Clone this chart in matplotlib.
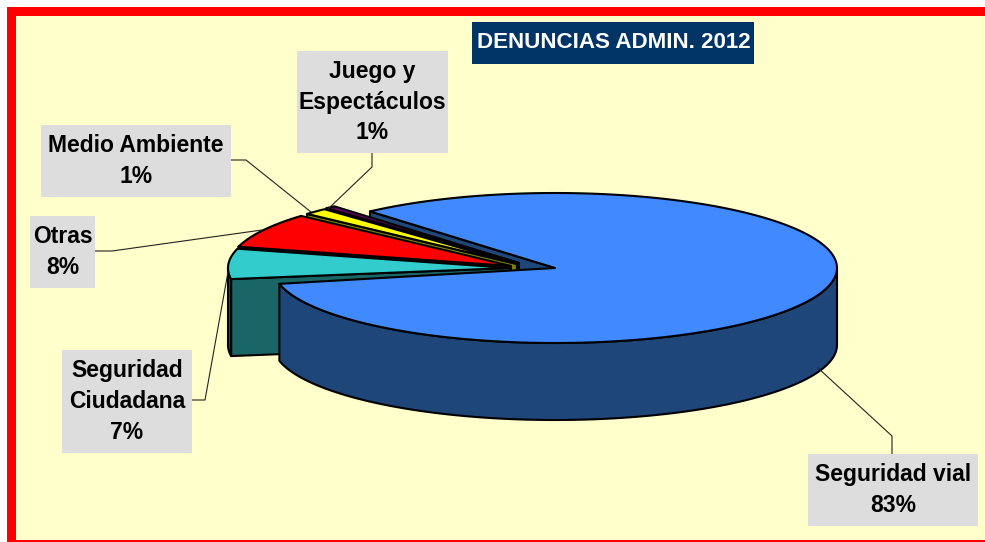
import matplotlib
matplotlib.use("Agg")
import matplotlib.pyplot as plt
from matplotlib.patches import Polygon, Rectangle
import numpy as np

# Datos de la tarta
categorias = ["Seguridad vial", "Seguridad\nCiudadana", "Otras", "Medio Ambiente", "Juego y\nEspectáculos"]
valores = [83.0, 6.5, 7.5, 1.4, 0.6]
etiquetas = ["83%", "7%", "8%", "1%", "1%"]
titulo = "DENUNCIAS ADMIN. 2012"

# Estilo
col_top = ["#4189FF", "#33CCCC", "#FF0000", "#FFFF00", "#660066"]
col_side = ["#1F4679", "#1A6666", "#800000", "#808000", "#330033"]
col_arc = ["#1F4679", "#145252", "#800000", "#808000", "#330033"]
desplaz = [(0, 0), (-45, 0), (-44, -2), (-38, -4), (-36, -5)]

# Geometria en pixeles
cx, cy = 555, 268
rx, ry = 282, 75
prof = 77
inicio = 131
giro = 3.7  # las porciones separadas quedan un poco giradas
lw = 1.5

cajas = [(808, 454, 978, 526), (62, 350, 192, 453), (30, 216, 95, 288), (41, 125, 231, 197), (297, 51, 448, 153)]
guias = [
    [(892, 454), (892, 436), (818, 368)],
    [(192, 400), (205, 400), (228, 272)],
    [(95, 251), (112, 251), (262, 230)],
    [(231, 160), (246, 160), (311, 212)],
    [(372, 153), (372, 167), (328, 209)],
]

fig = plt.figure(figsize=(9.85, 5.42), dpi=100)
ax = fig.add_axes([0, 0, 1, 1])
ax.set_xlim(0, 985)
ax.set_ylim(542, 0)
ax.axis("off")
plt.rcParams["font.family"] = ["Liberation Sans", "DejaVu Sans"]

ax.add_patch(Rectangle((7, 7), 1000, 560, fc="#FF0000", ec="none", zorder=0))
ax.add_patch(Rectangle((16, 16), 990, 524, fc="#FFFFCC", ec="none", zorder=1))


def borde(a, ox, oy):
    t = np.radians(a)
    return ox + rx * np.cos(t), oy - ry * np.sin(t)


def cara(pts, color, z):
    ax.add_patch(Polygon(pts, closed=True, fc=color, ec="black", lw=lw, joinstyle="round", zorder=z))


# angulos de cada porcion, en sentido horario
fin = inicio - np.cumsum(valores) / 100 * 360
ini = np.concatenate([[inicio], fin[:-1]])

# pared interior de la porcion grande, detras de las pequeñas
x0, y0 = borde(ini[0], cx, cy)
cara([(x0, y0), (cx, cy), (cx, cy + prof), (x0, y0 + prof)], col_side[0], 3)

# porciones separadas, de atras hacia delante
z = 4
for i in [4, 3, 2, 1]:
    ox = cx + desplaz[i][0]
    oy = cy + desplaz[i][1]
    a1, a2 = (ini[i] - giro) % 360, (fin[i] - giro) % 360
    xa, ya = borde(a1, ox, oy)
    cara([(ox, oy), (xa, ya), (xa, ya + prof), (ox, oy + prof)], col_side[i], z)
    if a1 > 180:
        # lado curvo que se ve por la izquierda
        arco = np.linspace(a1, 180, 12)
        xs, ys = borde(arco, ox, oy)
        pts = list(zip(xs, ys)) + list(zip(xs[::-1], ys[::-1] + prof))
        cara(pts, col_arc[i], z)
    arco = np.linspace(a1, a2, 40)
    xs, ys = borde(arco, ox, oy)
    cara([(ox, oy)] + list(zip(xs, ys)), col_top[i], z + 1)
    z += 2

# porcion grande: lado curvo y tapa
a_lado = np.linspace(fin[0] % 360, 360, 120)
xs, ys = borde(a_lado, cx, cy)
cara(list(zip(xs, ys)) + list(zip(xs[::-1], ys[::-1] + prof)), col_side[0], 20)
arco = np.linspace(ini[0], fin[0], 200)
xs, ys = borde(arco, cx, cy)
cara([(cx, cy)] + list(zip(xs, ys)), col_top[0], 21)

# guias y etiquetas
for g in guias:
    ax.plot([p[0] for p in g], [p[1] for p in g], color="#222222", lw=0.8, zorder=25)

for c, cat, et in zip(cajas, categorias, etiquetas):
    ax.add_patch(Rectangle((c[0], c[1]), c[2] - c[0], c[3] - c[1], fc="#DDDDDD", ec="none", zorder=30))
    ax.text((c[0] + c[2]) / 2, (c[1] + c[3]) / 2, cat + "\n" + et, ha="center", va="center",
            fontsize=16.5, fontweight="bold", color="black", linespacing=1.43, zorder=31)

ax.add_patch(Rectangle((472, 22), 282, 42, fc="#003366", ec="none", zorder=30))
ax.text(613.5, 40, titulo, ha="center", va="center_baseline", fontsize=16.1, fontweight="bold", color="white", zorder=31)

fig.savefig("out.png", dpi=100)
